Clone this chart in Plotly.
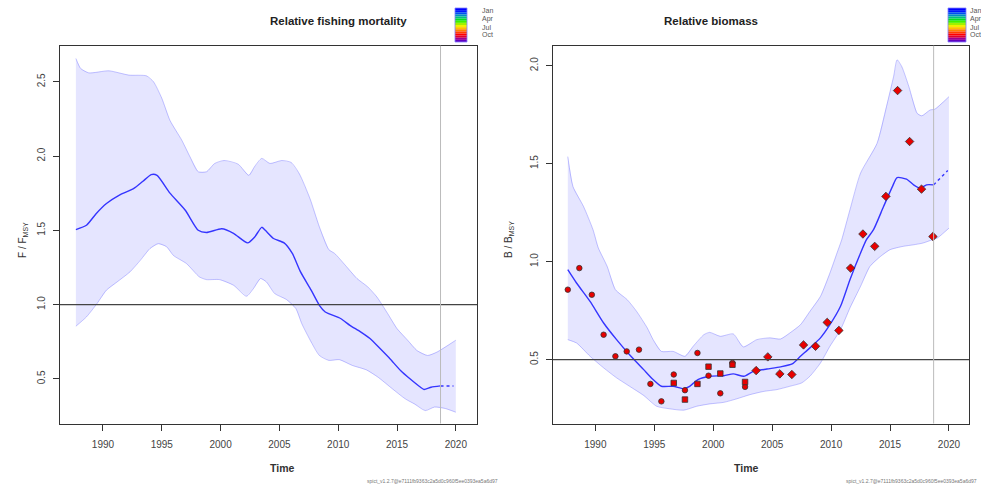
import plotly.graph_objects as go

# ---------------- data: relative fishing mortality ----------------
f_year = [1987.7, 1988.6, 1989.4, 1990.3, 1991.4, 1992.6, 1993.4, 1994.1, 1994.6, 1995.7, 1997.0,
          1998.1, 1998.8, 2000.1, 2001.1, 2002.3, 2002.9, 2003.5, 2003.8, 2004.5, 2005.4,
          2006.1, 2006.8, 2007.7, 2008.4, 2008.9, 2010.2, 2011.0, 2011.9, 2012.7, 2013.6,
          2014.4, 2015.3, 2016.1, 2017.0, 2017.3, 2017.9, 2018.7]
f_est = [1.505, 1.534, 1.61, 1.68, 1.737, 1.78, 1.83, 1.875, 1.87, 1.75, 1.635,
         1.50, 1.485, 1.51, 1.48, 1.415, 1.455, 1.52, 1.50, 1.445, 1.415,
         1.344, 1.22, 1.097, 0.995, 0.95, 0.906, 0.86, 0.816, 0.771, 0.70,
         0.635, 0.556, 0.50, 0.443, 0.428, 0.443, 0.452]
f_pred_year = [2018.7, 2019.2, 2019.8]
f_pred = [0.452, 0.452, 0.452]

f_up_year = [1987.7, 1988.1, 1988.8, 1990.5, 1992.2, 1993.7, 1994.3, 1995.0, 1995.7, 1996.7,
             1997.4, 1998.1, 1998.8, 1999.5, 2000.3, 2001.5, 2002.4, 2002.9, 2003.5, 2004.2,
             2005.2, 2006.0, 2006.7, 2007.6, 2008.4, 2009.2, 2009.7, 2010.6, 2011.6, 2012.5,
             2013.3, 2014.2, 2015.0, 2015.9, 2016.7, 2017.6, 2018.4, 2020.0]
f_up = [2.657, 2.59, 2.56, 2.574, 2.545, 2.54, 2.50, 2.39, 2.24, 2.107,
        1.995, 1.894, 1.894, 1.95, 1.97, 1.945, 1.87, 1.93, 1.984, 1.95,
        1.97, 1.957, 1.88, 1.714, 1.523, 1.37, 1.344, 1.265, 1.175, 1.12,
        1.05, 0.94, 0.838, 0.76, 0.69, 0.657, 0.68, 0.76]

f_lo_year = [1987.7, 1988.6, 1989.5, 1990.3, 1991.2, 1992.3, 1993.2, 1994.0, 1994.7, 1995.4,
             1996.0, 1997.1, 1998.2, 1998.8, 1999.9, 2001.1, 2002.2, 2002.8, 2003.4, 2003.9,
             2004.6, 2005.6, 2006.4, 2006.9, 2007.7, 2008.4, 2009.2, 2010.1, 2011.2, 2012.4,
             2013.4, 2014.6, 2015.7, 2016.5, 2017.4, 2018.2, 2019.1, 2020.0]
f_lo = [0.854, 0.917, 1.007, 1.097, 1.152, 1.22, 1.30, 1.377, 1.41, 1.39,
        1.33, 1.276, 1.186, 1.168, 1.168, 1.13, 1.056, 1.108, 1.175, 1.152,
        1.074, 1.034, 0.973, 0.872, 0.748, 0.657, 0.624, 0.629, 0.59, 0.56,
        0.51, 0.433, 0.365, 0.33, 0.286, 0.31, 0.30, 0.275]

# ---------------- data: relative biomass ----------------
b_year = [1987.66, 1988.4, 1989.55, 1990.7, 1991.8, 1992.9, 1994.1, 1994.9, 1995.6, 1996.6,
          1997.5, 1998.0, 1998.7, 1999.7, 2000.9, 2001.7, 2002.6, 2003.4, 2004.55, 2005.7,
          2006.7, 2007.4, 2008.2, 2009.1, 2009.9, 2010.8, 2011.6, 2012.5, 2013.0, 2013.6,
          2014.45, 2015.2, 2015.6, 2016.4, 2017.0, 2017.55, 2018.1, 2018.7]
b_est = [0.959, 0.891, 0.797, 0.687, 0.602, 0.525, 0.449, 0.398, 0.364, 0.364,
         0.352, 0.364, 0.398, 0.415, 0.418, 0.427, 0.415, 0.44, 0.452, 0.463,
         0.478, 0.517, 0.56, 0.611, 0.678, 0.772, 0.908, 1.044, 1.112, 1.163,
         1.281, 1.383, 1.429, 1.421, 1.392, 1.375, 1.392, 1.392]
b_pred_year = [2018.7, 2019.3, 2019.9]
b_pred = [1.392, 1.43, 1.465]

b_up_year = [1987.66, 1988.1, 1989.0, 1989.8, 1990.25, 1991.0, 1991.7, 1992.7, 1993.5, 1994.4,
             1994.9, 1995.6, 1996.6, 1997.6, 1998.3, 1999.2, 1999.7, 2000.6, 2001.7, 2002.55,
             2003.7, 2004.8, 2005.7, 2006.5, 2007.4, 2008.2, 2009.1, 2009.9, 2010.5, 2010.9,
             2011.6, 2012.5, 2013.9, 2014.7, 2015.3, 2015.6, 2016.0, 2016.6, 2017.3, 2017.7,
             2018.4, 2018.8, 2020.0]
b_up = [1.536, 1.383, 1.281, 1.163, 1.07, 0.976, 0.857, 0.806, 0.746, 0.662,
        0.602, 0.542, 0.542, 0.517, 0.568, 0.627, 0.639, 0.619, 0.631, 0.565,
        0.602, 0.611, 0.605, 0.636, 0.678, 0.746, 0.823, 0.942, 1.044, 1.112,
        1.265, 1.452, 1.604, 1.791, 1.944, 2.03, 1.995, 1.893, 1.757, 1.744,
        1.774, 1.778, 1.842]

b_lo_year = [1987.66, 1988.4, 1989.55, 1990.7, 1991.8, 1992.9, 1994.1, 1995.2, 1996.3, 1997.5,
             1998.6, 1999.7, 2000.9, 2002.0, 2003.1, 2004.3, 2005.4, 2006.5, 2007.5, 2008.2,
             2009.1, 2009.9, 2010.8, 2011.6, 2012.5, 2013.3, 2014.2, 2015.0, 2016.1, 2017.0,
             2017.8, 2018.6, 2019.0, 2020.0]
b_lo = [0.602, 0.585, 0.517, 0.458, 0.407, 0.364, 0.317, 0.262, 0.249, 0.242,
        0.262, 0.274, 0.282, 0.30, 0.321, 0.338, 0.347, 0.364, 0.381, 0.415,
        0.483, 0.568, 0.653, 0.764, 0.874, 0.976, 1.027, 1.061, 1.078, 1.086,
        1.095, 1.112, 1.12, 1.171]

# observed index points (index 1: circles, index 2: squares, index 3: diamonds)
i1_year = [1987.66, 1988.64, 1989.7, 1990.7, 1991.7, 1992.66, 1993.7, 1994.67, 1995.6,
           1996.65, 1997.6, 1998.66, 1999.6, 2000.6, 2001.63, 2002.7]
i1_val = [0.857, 0.967, 0.831, 0.627, 0.517, 0.542, 0.551, 0.376, 0.287,
          0.424, 0.344, 0.534, 0.418, 0.328, 0.483, 0.361]
i2_year = [1996.65, 1997.6, 1998.66, 1999.6, 2000.6, 2001.63, 2002.7]
i2_val = [0.381, 0.296, 0.376, 0.464, 0.429, 0.474, 0.386]
i3_year = [2003.64, 2004.63, 2005.65, 2006.67, 2007.66, 2008.68, 2009.67, 2010.66, 2011.65,
           2012.7, 2013.7, 2014.65, 2015.64, 2016.66, 2017.67, 2018.64]
i3_val = [0.444, 0.514, 0.427, 0.424, 0.575, 0.568, 0.69, 0.649, 0.967,
          1.141, 1.078, 1.333, 1.873, 1.613, 1.37, 1.128]

last_obs = 2018.7
f_ref = 1.0
b_ref = 0.5
x_ticks = [1990, 1995, 2000, 2005, 2010, 2015, 2020]
f_ticks = [0.5, 1.0, 1.5, 2.0, 2.5]
b_ticks = [0.5, 1.0, 1.5, 2.0]
month_labels = ["Jan", "Apr", "Jul", "Oct"]
season_colors = ["#0000FF", "#0018FF", "#0050F0", "#0090C0", "#00C080", "#00E020", "#40F000",
                 "#A0F000", "#F0F000", "#FFC000", "#FF8000", "#FF4000", "#FF0000", "#E00030",
                 "#A00090", "#6000C0"]

# ---------------- styling ----------------
W, H = 981, 486
BAND_FILL = "rgba(0,0,255,0.10)"
BAND_LINE = "rgba(90,90,255,0.35)"
EST_COLOR = "#3535FF"
AX_COL = "#333333"
FONT = "Liberation Sans, Arial, sans-serif"

fig = go.Figure()


def add_panel(xa, ya, uy, up, ly, lo, ey, est, py, pred):
    fig.add_trace(go.Scatter(x=uy + ly[::-1], y=up + lo[::-1], fill="toself",
                             fillcolor=BAND_FILL, line=dict(width=0), mode="lines",
                             hoverinfo="skip", showlegend=False, xaxis=xa, yaxis=ya))
    for yy, vv in ((uy, up), (ly, lo)):
        fig.add_trace(go.Scatter(x=yy, y=vv, mode="lines",
                                 line=dict(color=BAND_LINE, width=1, shape="spline", smoothing=0.6),
                                 showlegend=False, xaxis=xa, yaxis=ya))
    fig.add_trace(go.Scatter(x=ey, y=est, mode="lines",
                             line=dict(color=EST_COLOR, width=1.4, shape="spline", smoothing=0.6),
                             showlegend=False, xaxis=xa, yaxis=ya))
    fig.add_trace(go.Scatter(x=py, y=pred, mode="lines",
                             line=dict(color=EST_COLOR, width=1.4, dash="dot"),
                             showlegend=False, xaxis=xa, yaxis=ya))


add_panel("x", "y", f_up_year, f_up, f_lo_year, f_lo, f_year, f_est, f_pred_year, f_pred)
add_panel("x2", "y2", b_up_year, b_up, b_lo_year, b_lo, b_year, b_est, b_pred_year, b_pred)

for yrs, vals, sym in ((i1_year, i1_val, "circle"), (i2_year, i2_val, "square"),
                       (i3_year, i3_val, "diamond")):
    fig.add_trace(go.Scatter(x=yrs, y=vals, mode="markers",
                             marker=dict(symbol=sym, size=5.5 if sym != "diamond" else 6.5,
                                         color="#E80000",
                                         line=dict(color="#333333", width=0.8)),
                             showlegend=False, xaxis="x2", yaxis="y2"))

for xa, ya, ref in (("x", "y", f_ref), ("x2", "y2", b_ref)):
    fig.add_shape(type="line", xref=xa + " domain", yref=ya, x0=0, x1=1, y0=ref, y1=ref,
                  line=dict(color="#444444", width=1.3))
    fig.add_shape(type="line", xref=xa, yref=ya + " domain", x0=last_obs, x1=last_obs,
                  y0=0, y1=1, line=dict(color="#BBBBBB", width=1))

ydom = [1 - 423.5 / H, 1 - 45.7 / H]
axis_common = dict(showgrid=False, zeroline=False, showline=True, mirror=True,
                   linecolor=AX_COL, linewidth=1.2, ticks="outside", ticklen=6,
                   tickcolor=AX_COL, tickfont=dict(size=10, color="#444444", family=FONT))

fig.update_layout(
    width=W, height=H, margin=dict(l=0, r=0, t=0, b=0),
    paper_bgcolor="white", plot_bgcolor="white", showlegend=False,
    xaxis=dict(domain=[60 / W, 477 / W], range=[1986.35, 2021.8], tickvals=x_ticks,
               anchor="y", ticklabelstandoff=5, **axis_common),
    yaxis=dict(domain=ydom, range=[0.199, 2.743], tickvals=f_ticks, tickangle=-90,
               tickformat=".1f", anchor="x", ticklabelstandoff=4, **axis_common),
    xaxis2=dict(domain=[552.7 / W, 969 / W], range=[1986.38, 2021.7], tickvals=x_ticks,
                anchor="y2", ticklabelstandoff=5, **axis_common),
    yaxis2=dict(domain=ydom, range=[0.174, 2.102], tickvals=b_ticks, tickangle=-90,
                tickformat=".1f", anchor="x2", ticklabelstandoff=4, **axis_common),
)

ann = []
for cx, txt in ((268 / W, "Relative fishing mortality"), (760 / W, "Relative biomass")):
    ann.append(dict(x=cx, y=1 - 21 / H, xref="paper", yref="paper", yanchor="middle",
                    text="<b>" + txt + "</b>", showarrow=False,
                    font=dict(size=11.5, color="#222222", family=FONT)))
    ann.append(dict(x=cx, y=1 - 468 / H, xref="paper", yref="paper", yanchor="middle",
                    text="<b>Time</b>", showarrow=False,
                    font=dict(size=10.5, color="#333333", family=FONT)))
ann.append(dict(x=15 / W, y=1 - 240 / H, xref="paper", yref="paper", textangle=-90,
                yanchor="middle", text="F / F<sub>MSY</sub>", showarrow=False,
                font=dict(size=10, color="#333333", family=FONT)))
ann.append(dict(x=509 / W, y=1 - 240 / H, xref="paper", yref="paper", textangle=-90,
                yanchor="middle", text="B / B<sub>MSY</sub>", showarrow=False,
                font=dict(size=10, color="#333333", family=FONT)))
for rx in (500 / W, 979 / W):
    ann.append(dict(x=rx, y=1 - 481 / H, xref="paper", yref="paper", xanchor="right",
                    yanchor="middle",
                    text="spict_v1.2.7@e7111fb9363c2a5d0c960f5ee0393ea5a6d97", showarrow=False,
                    font=dict(size=5, color="#777777", family=FONT)))

shapes = []
for x0, x1, lx in ((455, 467, 480), (948, 966, 968)):
    top, bot = 8, 42
    n = len(season_colors)
    step = (bot - top) / n
    for i, c in enumerate(season_colors):
        shapes.append(dict(type="rect", xref="paper", yref="paper",
                           x0=x0 / W, x1=x1 / W,
                           y0=1 - (top + (i + 1) * step) / H, y1=1 - (top + i * step) / H,
                           fillcolor=c, line=dict(width=0), layer="above"))
    shapes.append(dict(type="rect", xref="paper", yref="paper", x0=x0 / W, x1=x1 / W,
                       y0=1 - bot / H, y1=1 - top / H, line=dict(color="#8080FF", width=0.8),
                       fillcolor="rgba(0,0,0,0)", layer="above"))
    for j, m in enumerate(month_labels):
        ann.append(dict(x=lx / W, y=1 - (11 + j * 8.0) / H, xref="paper", yref="paper",
                        xanchor="left", yanchor="middle", text=m, showarrow=False,
                        font=dict(size=7, color="#555555", family=FONT)))

fig.update_layout(annotations=ann)
for s in shapes:
    fig.add_shape(**s)

fig.write_html("out.html", config={"displayModeBar": False},
               post_script="document.body.style.margin='0';")
